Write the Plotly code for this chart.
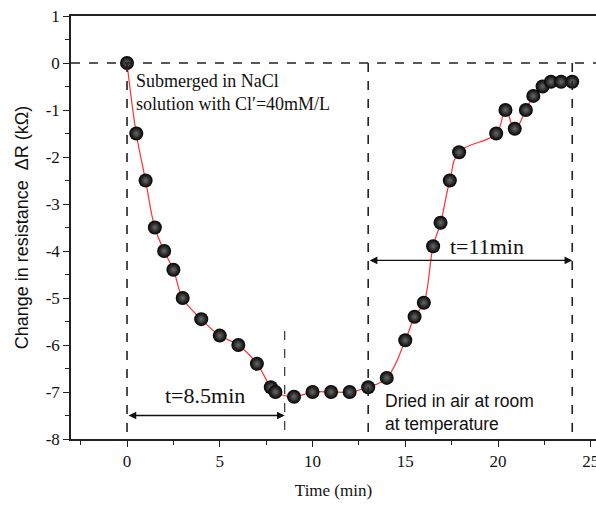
import plotly.graph_objects as go

# measured change in resistance vs time
time_min = [0, 0.5, 1, 1.5, 2, 2.5, 3, 4, 5, 6, 7, 7.75, 8, 9, 10, 11, 12, 13,
            14, 15, 15.5, 16, 16.5, 16.9, 17.4, 17.9, 19.9, 20.4, 20.9, 21.5,
            21.9, 22.4, 22.85, 23.4, 24]
delta_r = [0, -1.5, -2.5, -3.5, -4.0, -4.4, -5.0, -5.45, -5.8, -6.0, -6.4, -6.9,
           -7.0, -7.1, -7.0, -7.0, -7.0, -6.9, -6.7, -5.9, -5.4, -5.1, -3.9,
           -3.4, -2.5, -1.9, -1.5, -1.0, -1.4, -1.0, -0.7, -0.5, -0.4, -0.4, -0.4]

# phase boundaries (min) and annotation levels
t_start, t_wet_end, t_dry_start, t_dry_end = 0, 8.5, 13, 24
wet_arrow_y, dry_arrow_y = -7.5, -4.2
wet_line_top = -5.7

y_ticks = [1, 0, -1, -2, -3, -4, -5, -6, -7, -8]
y_labels = ["1", "0", "-1", "-2", "-3", "-4", "-5", "-6", "-7", "-8"]
x_ticks = [0, 5, 10, 15, 20, 25]

SERIF = "Liberation Serif, Times New Roman, serif"
SANS = "Liberation Sans, Arial, sans-serif"
AXIS_COLOR = "#222222"
TEXT = "#111111"

fig = go.Figure()

fig.add_trace(go.Scatter(
    x=time_min, y=delta_r, mode="lines",
    line=dict(color="#ff3030", width=1.2, shape="spline", smoothing=1.2),
    showlegend=False, hoverinfo="skip",
))
fig.add_trace(go.Scatter(
    x=time_min, y=delta_r, mode="markers",
    marker=dict(size=14, color="#000000",
                gradient=dict(type="radial", color="#6a6a6a"),
                line=dict(width=0)),
    showlegend=False,
))

dash_style = dict(color="#222222", width=1.6, dash="dash")
shapes = [
    # horizontal zero line across whole plot
    dict(type="line", xref="paper", yref="y", x0=0, x1=1, y0=0, y1=0, line=dash_style),
    dict(type="line", xref="x", yref="y", x0=t_start, x1=t_start, y0=0, y1=-8, line=dash_style),
    dict(type="line", xref="x", yref="y", x0=t_dry_start, x1=t_dry_start, y0=0, y1=-8, line=dash_style),
    dict(type="line", xref="x", yref="y", x0=t_dry_end, x1=t_dry_end, y0=0, y1=-8, line=dash_style),
    dict(type="line", xref="x", yref="y", x0=t_wet_end, x1=t_wet_end, y0=wet_line_top, y1=-8,
         line=dict(color="#222222", width=1.1, dash="dash")),
]

arrow = dict(xref="x", yref="y", axref="x", ayref="y", text="", showarrow=True,
             arrowhead=2, startarrowhead=2, arrowside="end+start",
             arrowsize=1.1, startarrowsize=1.1, arrowwidth=1.4, arrowcolor="#111111",
             standoff=0, startstandoff=0)
annotations = [
    dict(arrow, x=t_wet_end, y=wet_arrow_y, ax=t_start, ay=wet_arrow_y),
    dict(arrow, x=t_dry_end, y=dry_arrow_y, ax=t_dry_start, ay=dry_arrow_y),
    dict(x=4.2, y=-7.08, xref="x", yref="y", text="t=8.5min", showarrow=False,
         font=dict(family=SERIF, size=22, color=TEXT)),
    dict(x=19.4, y=-3.9, xref="x", yref="y", text="t=11min", showarrow=False,
         font=dict(family=SERIF, size=22, color=TEXT)),
    dict(x=0.35, y=-0.12, xref="x", yref="y", xanchor="left", yanchor="top", align="left",
         text="Submerged in NaCl<br>solution with Cl′=40mM/L", showarrow=False,
         font=dict(family=SERIF, size=18, color=TEXT)),
    dict(x=13.8, y=-6.93, xref="x", yref="y", xanchor="left", yanchor="top", align="left",
         text="Dried in air at room<br>at temperature", showarrow=False,
         font=dict(family=SANS, size=17.5, color=TEXT)),
]

fig.update_layout(
    width=596, height=507,
    margin=dict(l=71, r=0, t=16, b=68),
    plot_bgcolor="white", paper_bgcolor="white",
    shapes=shapes, annotations=annotations,
    showlegend=False,
    xaxis=dict(
        range=[-3.02, 25.28], tickvals=x_ticks, ticks="outside", ticklen=6,
        tickwidth=1.3, tickcolor=AXIS_COLOR, ticklabeloverflow="allow",
        minor=dict(dtick=2.5, tick0=0, ticks="outside", ticklen=4, tickcolor=AXIS_COLOR),
        showline=True, linecolor=AXIS_COLOR, linewidth=1.6, mirror=True,
        showgrid=False, zeroline=False, automargin=False,
        tickfont=dict(family=SERIF, size=17, color=TEXT),
        title=dict(text="Time (min)", font=dict(family=SERIF, size=17, color=TEXT),
                   standoff=14),
    ),
    yaxis=dict(
        range=[-8, 1], tickvals=y_ticks, ticktext=y_labels, ticks="outside", ticklen=6,
        tickwidth=1.3, tickcolor=AXIS_COLOR,
        minor=dict(dtick=0.5, tick0=0, ticks="outside", ticklen=4, tickcolor=AXIS_COLOR),
        showline=True, linecolor=AXIS_COLOR, linewidth=1.6,
        showgrid=False, zeroline=False, automargin=False,
        tickfont=dict(family=SERIF, size=17, color=TEXT),
        title=dict(text="Change in resistance&nbsp;&nbsp;ΔR (kΩ)",
                   font=dict(family=SANS, size=18, color=TEXT), standoff=12),
    ),
)

fig.write_html("out.html", config={"displayModeBar": False},
               post_script="document.body.style.margin='0px';")
